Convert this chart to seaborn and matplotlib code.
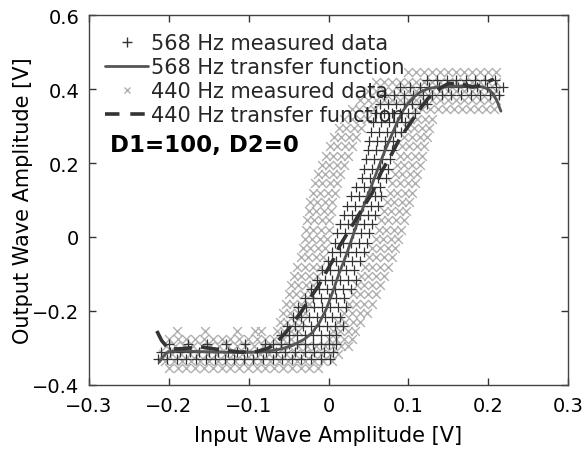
import matplotlib
matplotlib.use("Agg")
import matplotlib.pyplot as plt
import seaborn as sns
import pandas as pd
from matplotlib.lines import Line2D

# ---------------- data ----------------
# 568 Hz measured data ('+' markers): rows of (y, [x values])
meas568_rows = [
    (-0.33, [-0.214, -0.202, -0.19, -0.178, -0.166, -0.154, -0.142, -0.13, -0.118, -0.106, -0.094, -0.082, -0.07, -0.058, -0.046, -0.034, -0.022, -0.01, 0.002]),
    (-0.31, [-0.21, -0.198, -0.186, -0.174, -0.162, -0.15, -0.138, -0.126, -0.114, -0.102, -0.09, -0.078, -0.066, -0.054, -0.042, -0.03, -0.018, -0.006, 0.006]),
    (-0.29, [-0.2, -0.176, -0.152, -0.128, -0.104, -0.08, -0.07, -0.06, -0.05, -0.04, -0.03, -0.02, -0.01, 0.0, 0.01]),
    (-0.265, [-0.06, -0.05, -0.04, -0.03, -0.02, -0.01, 0.0, 0.01]),
    (-0.24, [-0.052, -0.042, -0.032, -0.022, -0.012, -0.002, 0.008, 0.018]),
    (-0.215, [-0.045, -0.035, -0.025, -0.015, -0.005, 0.005, 0.015]),
    (-0.19, [-0.038, -0.028, -0.018, -0.008, 0.002, 0.012, 0.022]),
    (-0.165, [-0.03, -0.02, -0.01, 0.0, 0.01, 0.02]),
    (-0.14, [-0.022, -0.012, -0.002, 0.008, 0.018, 0.028]),
    (-0.115, [-0.015, -0.005, 0.005, 0.015, 0.025, 0.035]),
    (-0.09, [-0.008, 0.002, 0.012, 0.022, 0.032]),
    (-0.065, [-0.001, 0.009, 0.019, 0.029, 0.039]),
    (-0.04, [0.004, 0.014, 0.024, 0.034, 0.044]),
    (-0.015, [0.008, 0.018, 0.028, 0.038, 0.048]),
    (0.01, [0.011, 0.021, 0.031, 0.041, 0.051]),
    (0.035, [0.015, 0.025, 0.035, 0.045, 0.055]),
    (0.06, [0.019, 0.029, 0.039, 0.049, 0.058]),
    (0.085, [0.023, 0.033, 0.043, 0.053, 0.062]),
    (0.11, [0.028, 0.038, 0.048, 0.058, 0.066]),
    (0.135, [0.035, 0.045, 0.055, 0.065]),
    (0.16, [0.042, 0.052, 0.062, 0.072]),
    (0.185, [0.045, 0.055, 0.065, 0.075]),
    (0.21, [0.047, 0.057, 0.067, 0.077]),
    (0.235, [0.049, 0.059, 0.069, 0.079]),
    (0.26, [0.051, 0.061, 0.071, 0.081]),
    (0.285, [0.053, 0.063, 0.073, 0.083, 0.091]),
    (0.31, [0.056, 0.066, 0.076, 0.086, 0.096]),
    (0.335, [0.06, 0.07, 0.08, 0.09, 0.1, 0.108]),
    (0.36, [0.064, 0.074, 0.084, 0.094, 0.104, 0.114, 0.124]),
    (0.385, [0.07, 0.082, 0.094, 0.106, 0.118, 0.13, 0.142, 0.154, 0.166, 0.178, 0.19, 0.202, 0.214]),
    (0.405, [0.09, 0.102, 0.114, 0.126, 0.138, 0.15, 0.162, 0.174, 0.186, 0.198, 0.21, 0.218]),
    (0.425, [0.124, 0.136, 0.148, 0.16, 0.172, 0.184, 0.196, 0.208]),
]

# 440 Hz measured data ('x' markers): rows of (y, [x values])
meas440_rows = [
    (-0.355, [-0.2, -0.189, -0.178, -0.167, -0.156, -0.145, -0.134, -0.123, -0.112, -0.101, -0.09, -0.079, -0.068, -0.057, -0.046, -0.035, -0.024, -0.013]),
    (-0.335, [-0.205, -0.194, -0.183, -0.172, -0.161, -0.15, -0.139, -0.128, -0.117, -0.106, -0.095, -0.084, -0.073, -0.062, -0.051, -0.04, -0.029, -0.018, -0.007, 0.004]),
    (-0.315, [-0.207, -0.196, -0.185, -0.174, -0.163, -0.152, -0.141, -0.13, -0.119, -0.108, -0.097, -0.086, -0.075, -0.064, -0.053, -0.042, -0.031, -0.02, -0.009, 0.002, 0.012]),
    (-0.295, [-0.203, -0.192, -0.181, -0.17, -0.159, -0.148, -0.137, -0.126, -0.115, -0.104, -0.093, -0.082, -0.071, -0.06, -0.049, -0.038, -0.027, -0.016, -0.005, 0.006, 0.016, 0.025]),
    (-0.275, [-0.2, -0.189, -0.178, -0.167, -0.156, -0.145, -0.134, -0.123, -0.112, -0.101, -0.09, -0.079, -0.068, -0.057, -0.047, 0.0, 0.01, 0.02, 0.03]),
    (-0.255, [-0.19, -0.155, -0.115, -0.092, -0.085, -0.065, -0.056, -0.047, -0.038, 0.006, 0.015, 0.024, 0.033]),
    (-0.23, [-0.061, -0.052, -0.042, -0.033, 0.012, 0.021, 0.031, 0.04]),
    (-0.205, [-0.057, -0.048, -0.038, -0.029, 0.02, 0.029, 0.039, 0.048]),
    (-0.18, [-0.053, -0.044, -0.034, -0.025, 0.026, 0.035, 0.045, 0.054]),
    (-0.155, [-0.05, -0.041, -0.031, -0.022, 0.031, 0.04, 0.05, 0.059]),
    (-0.13, [-0.047, -0.038, -0.028, -0.019, 0.036, 0.045, 0.055, 0.064]),
    (-0.105, [-0.043, -0.034, -0.024, -0.015, 0.041, 0.05, 0.06, 0.069]),
    (-0.08, [-0.039, -0.03, -0.02, -0.011, 0.046, 0.055, 0.065, 0.074]),
    (-0.055, [-0.035, -0.026, -0.016, -0.007, 0.051, 0.06, 0.07, 0.079]),
    (-0.03, [-0.032, -0.023, -0.013, -0.004, 0.055, 0.064, 0.074, 0.083]),
    (-0.005, [-0.03, -0.021, -0.011, -0.002, 0.059, 0.068, 0.078, 0.087]),
    (0.02, [-0.028, -0.019, -0.009, 0.0, 0.063, 0.072, 0.082, 0.091]),
    (0.045, [-0.027, -0.018, -0.008, 0.001, 0.066, 0.075, 0.085, 0.094]),
    (0.07, [-0.025, -0.016, -0.006, 0.003, 0.069, 0.078, 0.088, 0.097]),
    (0.095, [-0.023, -0.014, -0.004, 0.005, 0.073, 0.082, 0.092, 0.101]),
    (0.12, [-0.02, -0.011, -0.001, 0.008, 0.077, 0.086, 0.096, 0.105]),
    (0.145, [-0.017, -0.008, 0.002, 0.011, 0.08, 0.089, 0.099, 0.108]),
    (0.17, [-0.013, -0.004, 0.006, 0.015, 0.083, 0.092, 0.102, 0.111]),
    (0.195, [-0.008, 0.001, 0.011, 0.02, 0.086, 0.095, 0.105, 0.114]),
    (0.22, [-0.003, 0.006, 0.016, 0.025, 0.089, 0.098, 0.108, 0.117]),
    (0.245, [0.002, 0.011, 0.021, 0.03, 0.092, 0.101, 0.111, 0.12]),
    (0.27, [0.007, 0.016, 0.026, 0.035, 0.095, 0.104, 0.114, 0.123]),
    (0.295, [0.013, 0.022, 0.032, 0.041, 0.098, 0.107, 0.117, 0.126]),
    (0.32, [0.02, 0.029, 0.039, 0.048, 0.102, 0.111, 0.121, 0.13]),
    (0.345, [0.029, 0.038, 0.048, 0.057, 0.108, 0.117, 0.127, 0.137, 0.147, 0.157, 0.167, 0.177, 0.187, 0.197, 0.207]),
    (0.37, [0.04, 0.05, 0.06, 0.07, 0.08, 0.09, 0.1, 0.11, 0.12, 0.13, 0.14, 0.15, 0.16, 0.17, 0.18, 0.19, 0.2, 0.21]),
    (0.395, [0.05, 0.06, 0.07, 0.08, 0.09, 0.1, 0.11, 0.12, 0.13, 0.14, 0.15, 0.16, 0.17, 0.18, 0.19, 0.2, 0.21]),
    (0.42, [0.06, 0.07, 0.08, 0.09, 0.1, 0.11, 0.12, 0.13, 0.14, 0.15, 0.16, 0.17, 0.18, 0.19, 0.2, 0.21]),
    (0.445, [0.1, 0.11, 0.12, 0.13, 0.14, 0.15, 0.16, 0.17, 0.18, 0.19, 0.2, 0.21]),
]

# 568 Hz transfer function (solid)
tf568_x = [-0.212, -0.205, -0.2, -0.19, -0.17, -0.14, -0.11, -0.08, -0.06, -0.045, -0.03, -0.02, -0.011, -0.003,
           0.005, 0.013, 0.022, 0.03, 0.038, 0.047, 0.055, 0.063, 0.07, 0.078, 0.086, 0.093, 0.1, 0.108, 0.115,
           0.125, 0.135, 0.15, 0.165, 0.18, 0.192, 0.2, 0.206, 0.211, 0.216]
tf568_y = [-0.338, -0.318, -0.31, -0.307, -0.309, -0.311, -0.312, -0.31, -0.303, -0.293, -0.276, -0.258, -0.23, -0.196,
           -0.15, -0.1, -0.05, 0.0, 0.05, 0.1, 0.145, 0.19, 0.23, 0.27, 0.31, 0.34, 0.362, 0.38, 0.392,
           0.401, 0.405, 0.407, 0.408, 0.408, 0.406, 0.4, 0.388, 0.368, 0.34]

# 440 Hz transfer function (dashed)
tf440_x = [-0.215, -0.209, -0.2, -0.185, -0.16, -0.135, -0.111, -0.09, -0.075, -0.065, -0.055, -0.045, -0.035,
           -0.024, -0.012, -0.003, 0.005, 0.014, 0.025, 0.035, 0.045, 0.055, 0.066, 0.078, 0.089, 0.1, 0.116,
           0.125, 0.135, 0.15, 0.165, 0.18, 0.192, 0.2, 0.207]
tf440_y = [-0.254, -0.28, -0.303, -0.302, -0.297, -0.305, -0.311, -0.31, -0.3, -0.284, -0.262, -0.235, -0.205,
           -0.168, -0.13, -0.095, -0.065, -0.024, 0.015, 0.05, 0.085, 0.12, 0.175, 0.22, 0.265, 0.3, 0.35,
           0.375, 0.395, 0.415, 0.415, 0.405, 0.41, 0.42, 0.427]

x_ticks = [-0.3, -0.2, -0.1, 0, 0.1, 0.2, 0.3]
x_tick_labels = ["\u22120.3", "\u22120.2", "\u22120.1", "0", "0.1", "0.2", "0.3"]
y_ticks = [-0.4, -0.2, 0, 0.2, 0.4, 0.6]
y_tick_labels = ["\u22120.4", "\u22120.2", "0", "0.2", "0.4", "0.6"]

labels = ["568 Hz measured data", "568 Hz transfer function",
          "440 Hz measured data", "440 Hz transfer function"]
annotation = "D1=100, D2=0"

# ---------------- build tables ----------------
def rows_to_df(rows):
    xs, ys = [], []
    for yv, xl in rows:
        for xv in xl:
            xs.append(xv)
            ys.append(yv)
    return pd.DataFrame({"x": xs, "y": ys})

df568 = rows_to_df(meas568_rows)
df440 = rows_to_df(meas440_rows)
dft568 = pd.DataFrame({"x": tf568_x, "y": tf568_y})
dft440 = pd.DataFrame({"x": tf440_x, "y": tf440_y})

# ---------------- plot ----------------
sns.set_theme(style="white")
plt.rcParams["font.family"] = ["DejaVu Sans"]
plt.rcParams["axes.unicode_minus"] = True

fig = plt.figure(figsize=(5.83, 4.52), dpi=100)
ax = fig.add_axes([89 / 583, 1 - 386 / 452, (568 - 89) / 583, (386 - 16) / 452])

c440 = "#b0b0b0"
c568 = "#333333"

sns.scatterplot(data=df440, x="x", y="y", marker="x", s=40, color=c440, linewidth=1.0,
                ax=ax, zorder=1, legend=False)
sns.scatterplot(data=df568, x="x", y="y", marker="+", s=55, color=c568, linewidth=0.9,
                ax=ax, zorder=2, legend=False)
sns.lineplot(data=dft568, x="x", y="y", color="#555555", linewidth=2.0, ax=ax, zorder=3,
             sort=False, legend=False)
sns.lineplot(data=dft440, x="x", y="y", color="#333333", linewidth=2.6, ax=ax, zorder=4,
             sort=False, legend=False)
ax.lines[-1].set_dashes([5, 2.5])

ax.set_xlim(-0.3, 0.3)
ax.set_ylim(-0.4, 0.6)
ax.set_xticks(x_ticks)
ax.set_xticklabels(x_tick_labels)
ax.set_yticks(y_ticks)
ax.set_yticklabels(y_tick_labels)
ax.tick_params(direction="in", length=5, width=1, colors="#333333", labelcolor="black",
               labelsize=14, top=True, right=True, bottom=True, left=True)
ax.tick_params(axis="x", pad=8)
ax.tick_params(axis="y", pad=7)
for s in ax.spines.values():
    s.set_color("#444444")
    s.set_linewidth(1.0)
ax.set_xlabel("Input Wave Amplitude [V]", fontsize=15, color="black")
ax.set_ylabel("Output Wave Amplitude [V]", fontsize=15, color="black")
ax.xaxis.set_label_coords(0.5, -0.108)
ax.yaxis.set_label_coords(-0.117, 0.5)

handles = [
    Line2D([], [], linestyle="none", marker="+", markersize=7, color=c568, markeredgewidth=1),
    Line2D([], [], linestyle="-", color="#555555", linewidth=2),
    Line2D([], [], linestyle="none", marker="x", markersize=5, color=c440, markeredgewidth=1),
    Line2D([], [], linestyle=(0, (4, 3)), color="#333333", linewidth=2.6),
]
ax.legend(handles, labels, loc="upper left", bbox_to_anchor=(0.01, 0.982), frameon=False,
          fontsize=15, handlelength=2.05, handletextpad=0.15, labelspacing=0.19,
          borderaxespad=0.3, borderpad=0.25)

ax.text(-0.274, 0.25, annotation, fontsize=16.5, fontweight="bold", va="center", ha="left",
        color="black", zorder=6)

fig.savefig("out.png", dpi=100)
